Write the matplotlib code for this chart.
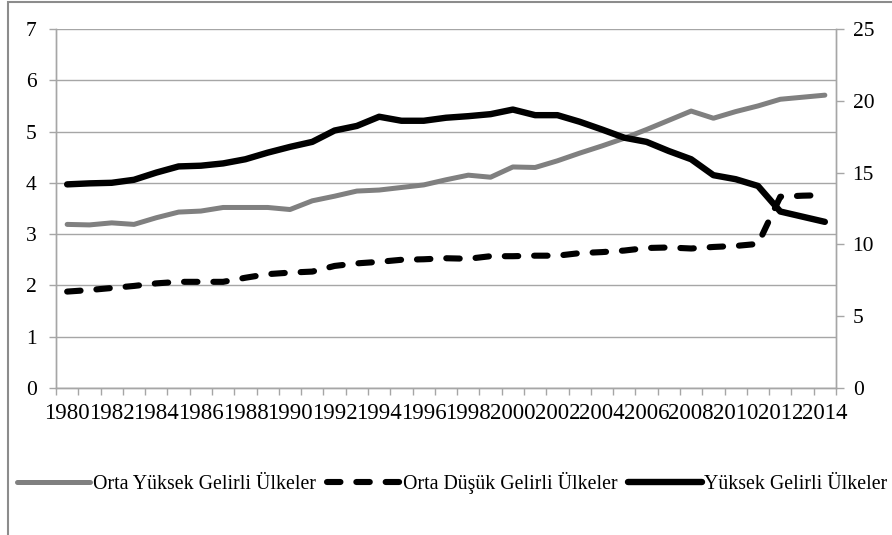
import numpy as np
import matplotlib.pyplot as plt
import matplotlib.patches as patches

plt.rcParams['font.family'] = ['Liberation Serif', 'DejaVu Serif']

years = list(range(1980, 2015))

# Orta Yüksek Gelirli Ülkeler (left axis)
orta_yuksek = [3.19, 3.18, 3.22, 3.19, 3.32, 3.43, 3.45, 3.52, 3.52, 3.52,
               3.48, 3.65, 3.74, 3.84, 3.86, 3.91, 3.96, 4.06, 4.15, 4.11,
               4.31, 4.30, 4.43, 4.58, 4.72, 4.87, 5.04, 5.22, 5.40, 5.26,
               5.39, 5.50, 5.63, 5.67, 5.71]

# Orta Düşük Gelirli Ülkeler (left axis)
orta_dusuk = [1.88, 1.91, 1.95, 1.99, 2.04, 2.07, 2.07, 2.07, 2.15, 2.22,
              2.25, 2.27, 2.38, 2.43, 2.46, 2.50, 2.51, 2.53, 2.52, 2.57,
              2.57, 2.58, 2.58, 2.63, 2.65, 2.68, 2.73, 2.74, 2.72, 2.75,
              2.77, 2.81, 3.73, 3.75, 3.76]

# Yüksek Gelirli Ülkeler (right axis)
yuksek = [14.18, 14.25, 14.29, 14.50, 15.00, 15.43, 15.48, 15.64, 15.93, 16.39,
          16.79, 17.14, 17.93, 18.25, 18.89, 18.61, 18.61, 18.82, 18.93, 19.07,
          19.39, 19.00, 19.00, 18.54, 18.00, 17.43, 17.14, 16.50, 15.93, 14.82,
          14.54, 14.07, 12.29, 11.93, 11.57]

labels = ['Orta Yüksek Gelirli Ülkeler', 'Orta Düşük Gelirli Ülkeler',
          'Yüksek Gelirli Ülkeler']

x = np.arange(len(years))
grid_c = '#a6a6a6'

fig = plt.figure(figsize=(8.92, 5.35), dpi=100)
ax = fig.add_axes([56/892, 1-388/535, (836-56)/892, (388-29)/535])
ax2 = ax.twinx()

l1, = ax.plot(x, orta_yuksek, color='#808080', lw=3.6, solid_capstyle='round')
l2, = ax.plot(x, orta_dusuk, color='black', lw=4.4, dashes=(2.2, 2.6),
              dash_capstyle='round')
l3, = ax2.plot(x, yuksek, color='black', lw=4.6, solid_capstyle='round')

ax.set_xlim(-0.5, len(years)-0.5)
ax.set_ylim(0, 7)
ax2.set_ylim(0, 25)
ax.set_yticks(range(0, 8))
ax2.set_yticks(range(0, 26, 5))
ax.yaxis.grid(True, color=grid_c, lw=1)
ax.set_axisbelow(True)

ax.set_xticks(x[::2])
ax.set_xticklabels([str(y) for y in years[::2]])
ax.set_xticks(np.arange(-0.5, len(years)), minor=True)
ax.tick_params(axis='x', which='major', length=0, pad=11, labelsize=16.5)
ax.tick_params(axis='x', which='minor', length=5, color=grid_c, width=1)
ax.tick_params(axis='y', length=5, color=grid_c, width=1, pad=9, labelsize=15.5)
ax2.tick_params(axis='y', length=6, color=grid_c, width=1, pad=6, labelsize=15.5)

for a in (ax, ax2):
    for s in ['top']:
        a.spines[s].set_visible(False)
    for s in ['left', 'right', 'bottom']:
        a.spines[s].set_color(grid_c)
        a.spines[s].set_linewidth(1)

fig.legend([l1, l2, l3], labels, loc='center left', bbox_to_anchor=(17/892, 1-483/535),
           ncol=3, frameon=False, fontsize=14.3, handlelength=3.7, handletextpad=0.12,
           columnspacing=0.55, borderaxespad=0, borderpad=0)

# outer chart frame (partly cropped)
fig.patches.append(patches.Rectangle((8/892, -0.1), 1.2, 1.1 - 1.5/535, transform=fig.transFigure,
                                     fill=False, edgecolor='#8c8c8c', lw=1.5))

fig.savefig('out.png', dpi=100)
